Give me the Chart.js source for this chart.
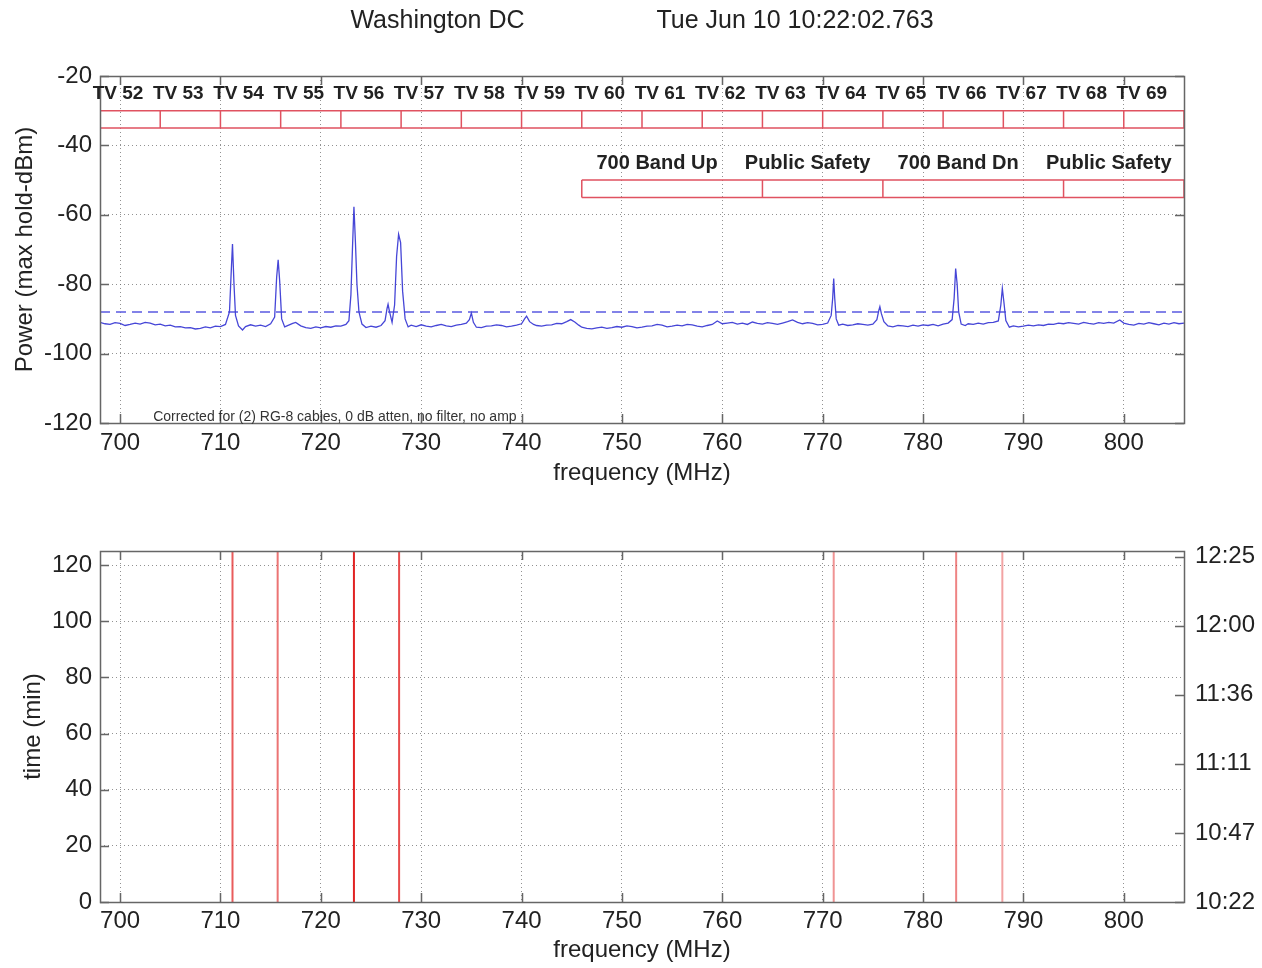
<!DOCTYPE html>
<html>
<head>
<meta charset="utf-8">
<script src="https://cdn.jsdelivr.net/npm/chart.js@4.4.1/dist/chart.umd.min.js"></script>
<style>
  body { margin: 0; background: #fff; }
  canvas { position: absolute; left: 0; }
  #spectrum { top: 0; }
  #waterfall { top: 490px; }
</style>
</head>
<body>
<canvas id="spectrum" width="1262" height="490"></canvas>
<canvas id="waterfall" width="1262" height="478"></canvas>
<script>
// axis ticks
const freqTicks = [700, 710, 720, 730, 740, 750, 760, 770, 780, 790, 800];
const powerTicks = [-120, -100, -80, -60, -40, -20];
const timeTicks = [0, 20, 40, 60, 80, 100, 120];
const clockTicks = [0, 24.6, 49.2, 73.8, 98.4, 123];
const clockLabels = ['10:22', '10:47', '11:11', '11:36', '12:00', '12:25'];

// channel plan
const tvChannels = ['TV 52', 'TV 53', 'TV 54', 'TV 55', 'TV 56', 'TV 57', 'TV 58', 'TV 59', 'TV 60',
    'TV 61', 'TV 62', 'TV 63', 'TV 64', 'TV 65', 'TV 66', 'TV 67', 'TV 68', 'TV 69'];
const tvEdges = [698, 704, 710, 716, 722, 728, 734, 740, 746, 752, 758, 764, 770, 776, 782, 788, 794, 800, 806];
const bandNames = ['700 Band Up', 'Public Safety', '700 Band Dn', 'Public Safety'];
const bandEdges = [746, 764, 776, 794, 806];

// max hold spectrum (MHz, dBm), one line of freqs per line of powers
const specFreq = [
    698, 698.5, 699, 699.5, 700, 700.5, 701, 701.5, 702, 702.5, 703, 703.5, 704, 704.5, 705, 705.5, 706, 706.5, 707, 707.5, 708, 708.5, 709, 709.5, 710, 710.5,
    710.9, 711.05, 711.2, 711.35, 711.5, 711.8, 712.2, 712.5, 713, 713.5, 714, 714.5, 715, 715.4, 715.6, 715.75, 715.9, 716.1, 716.4, 716.8,
    717.2, 717.5, 718, 718.5, 719, 719.5, 720, 720.5, 721, 721.5, 722, 722.5,
    722.8, 723.0, 723.15, 723.3, 723.45, 723.6, 723.8, 724.1, 724.5, 725, 725.5, 726, 726.4, 726.6, 726.7, 726.85, 727.1, 727.35, 727.55, 727.75, 727.95, 728.15, 728.4, 728.7,
    729, 729.5, 730, 730.5, 731, 731.5, 732, 732.5, 733, 733.5, 734, 734.5, 734.8, 735.0, 735.2, 735.5, 736, 736.5, 737, 737.5,
    738, 738.5, 739, 739.5, 740, 740.3, 740.5, 740.8, 741.2, 741.5, 742, 742.5, 743, 743.5, 744, 744.5, 744.9, 745.3, 745.7,
    746, 746.5, 747, 747.5, 748, 748.5, 749, 749.5, 750, 750.5,
    751, 751.5, 752, 752.5, 753, 753.5, 754, 754.5, 755, 755.5,
    756, 756.5, 757, 757.5, 758, 758.5, 759, 759.5, 760, 760.5,
    761, 761.5, 762, 762.5, 763, 763.5, 764, 764.5, 765, 765.5,
    766, 766.5, 767, 767.5, 768, 768.5, 769, 769.5, 770, 770.5,
    770.85, 771.0, 771.1, 771.2, 771.35, 771.6, 772, 772.5, 773, 773.5, 774, 774.5, 775, 775.4, 775.6, 775.7, 775.85, 776.1,
    776.5, 777, 777.5, 778, 778.5, 779, 779.5, 780, 780.5, 781, 781.5, 782, 782.5, 782.9,
    783.1, 783.25, 783.4, 783.55, 783.8, 784.2, 784.5, 785, 785.5, 786, 786.5, 787, 787.5, 787.75, 787.9, 788.05, 788.25, 788.6,
    789, 789.5, 790, 790.5, 791, 791.5, 792, 792.5, 793, 793.5,
    794, 794.5, 795, 795.5, 796, 796.5, 797, 797.5, 798, 798.5,
    799, 799.6, 800, 800.5, 801, 801.5, 802, 802.5, 803, 803.5,
    804, 804.5, 805, 805.5, 806];
const specPower = [
    -91.0, -91.4, -91.6, -91.1, -91.3, -91.9, -91.6, -91.2, -91.5, -91.0, -91.2, -91.7, -91.5, -92.0, -91.8, -92.3, -92.2, -92.6, -92.5, -92.9, -92.7, -92.3, -92.6, -92.1, -92.2, -91.6,
    -88, -78, -68.4, -80, -89, -92.0, -93.2, -92.2, -91.7, -92.1, -91.8, -92.2, -91.4, -89.5, -78, -73.0, -79, -90, -92.3, -91.8,
    -91.3, -91.0, -92.0, -92.5, -92.7, -92.3, -92.6, -92.2, -92.4, -92.0, -92.1, -91.6,
    -90.5, -83, -70, -57.7, -68, -80, -88, -91.5, -92.5, -92.1, -92.4, -91.9, -90.5, -87, -85.8, -88, -91.0, -86, -72, -65.6, -68, -82, -90, -92.3,
    -91.8, -92.2, -91.7, -92.1, -92.3, -91.9, -91.6, -92.0, -92.2, -91.8, -91.6, -91.2, -90.2, -88.3, -91.0, -92.4, -92.5, -92.1, -92.0, -91.7,
    -91.9, -92.3, -92.1, -91.8, -91.4, -90.0, -89.2, -90.8, -91.6, -91.9, -92.1, -91.8, -91.7, -91.3, -91.4, -90.8, -90.2, -90.9, -91.8,
    -92.4, -92.7, -92.9, -92.6, -92.4, -92.7, -92.5, -92.2, -92.4, -92.0,
    -92.2, -92.6, -92.4, -92.1, -92.0, -91.6, -91.8, -92.3, -92.1, -91.8,
    -92.0, -91.6, -91.7, -92.1, -92.3, -91.9, -91.6, -90.6, -91.4, -91.2,
    -91.0, -91.5, -91.2, -91.6, -90.9, -91.3, -91.5, -91.1, -91.3, -91.6,
    -91.2, -90.8, -90.3, -91.0, -91.4, -91.1, -91.3, -91.7, -91.6, -91.2,
    -89, -84, -78.4, -84, -90, -91.8, -91.5, -91.9, -91.7, -91.4, -91.6, -91.8, -91.5, -90.2, -87.5, -86.5, -88.5, -90.8,
    -92.0, -92.3, -91.9, -92.0, -92.2, -91.8, -92.1, -91.7, -91.9, -91.6, -92.0, -91.5, -91.2, -90.2,
    -84, -75.5, -80, -88, -91.5, -91.9, -91.4, -91.6, -91.2, -91.5, -91.1, -91.0, -90.6, -86, -81.2, -85, -90.5, -92.4,
    -92.0, -92.3, -92.1, -91.8, -92.0, -91.7, -91.9, -91.5, -91.6, -91.2,
    -91.4, -91.1, -91.3, -91.5, -91.0, -91.3, -91.5, -91.1, -91.3, -91.0,
    -91.2, -90.3, -91.2, -91.6, -91.8, -91.3, -91.5, -91.1, -91.4, -91.7,
    -91.2, -91.5, -91.1, -91.4, -91.2];
const holdThreshold = -88;

// carriers seen in the waterfall
const signalFreq = [711.2, 715.7, 723.3, 727.8, 771.1, 783.3, 787.9];
const signalPower = [-68.4, -73.0, -57.7, -65.6, -78.4, -75.5, -81.2];

const FONT = '"Liberation Sans", Arial, sans-serif';
Chart.defaults.font.family = FONT;
Chart.defaults.color = '#222';

const gridStyle = { color: 'rgba(110,110,110,0.75)', lineWidth: 1, drawTicks: false };
const borderStyle = { display: false, dash: [1, 3] };

// outline of a row of boxes, null points break the line
function boxOutline(edges, lo, hi) {
    let first = edges[0], last = edges[edges.length - 1];
    let pts = [{x: first, y: hi}, {x: last, y: hi}, {x: last, y: null},
        {x: first, y: lo}, {x: last, y: lo}, {x: last, y: null}];
    edges.forEach(e => {
        pts.push({x: e, y: lo}, {x: e, y: hi}, {x: e, y: null});
    });
    return pts;
}

// matlab style frame with inward ticks
const matlabBox = {
    id: 'matlabBox',
    afterDatasetsDraw(chart) {
        const {ctx, chartArea: a, scales} = chart;
        ctx.save();
        ctx.strokeStyle = '#666';
        ctx.lineWidth = 1.5;
        ctx.beginPath();
        scales.x.ticks.forEach(t => {
            let px = Math.round(scales.x.getPixelForValue(t.value)) + 0.5;
            ctx.moveTo(px, a.bottom); ctx.lineTo(px, a.bottom - 9);
            ctx.moveTo(px, a.top); ctx.lineTo(px, a.top + 9);
        });
        scales.y.ticks.forEach(t => {
            let py = Math.round(scales.y.getPixelForValue(t.value)) + 0.5;
            ctx.moveTo(a.left, py); ctx.lineTo(a.left + 9, py);
            if (!scales.y2) { ctx.moveTo(a.right, py); ctx.lineTo(a.right - 9, py); }
        });
        if (scales.y2) {
            scales.y2.ticks.forEach(t => {
                let py = Math.round(scales.y2.getPixelForValue(t.value)) + 0.5;
                ctx.moveTo(a.right, py); ctx.lineTo(a.right - 9, py);
            });
        }
        ctx.stroke();
        ctx.strokeRect(Math.round(a.left) + 0.5, Math.round(a.top) + 0.5,
            Math.round(a.width), Math.round(a.height));
        ctx.restore();
    }
};

// channel / band names and the footnote
const bandLabels = {
    id: 'bandLabels',
    afterDatasetsDraw(chart) {
        const {ctx, scales: {x, y}} = chart;
        ctx.save();
        ctx.fillStyle = '#222';
        ctx.font = 'bold 19px ' + FONT;
        ctx.textAlign = 'center';
        ctx.textBaseline = 'middle';
        tvChannels.forEach((name, i) => {
            let mid = (tvEdges[i] + tvEdges[i + 1]) / 2 - 1.2;
            ctx.fillText(name, x.getPixelForValue(mid), y.getPixelForValue(-25.2));
        });
        ctx.font = 'bold 20px ' + FONT;
        bandNames.forEach((name, i) => {
            let mid = (bandEdges[i] + bandEdges[i + 1]) / 2 - 1.5;
            ctx.fillText(name, x.getPixelForValue(mid), y.getPixelForValue(-45.3));
        });
        ctx.font = '14px ' + FONT;
        ctx.textAlign = 'left';
        ctx.fillStyle = '#333';
        ctx.fillText('Corrected for (2) RG-8 cables, 0 dB atten, no filter, no amp',
            x.getPixelForValue(703.3), y.getPixelForValue(-118.2));
        ctx.restore();
    }
};

let spectrum = document.getElementById('spectrum').getContext('2d');
new Chart(spectrum, {
    type: 'scatter',
    data: {
        datasets: [
            {
                data: specFreq.map((f, i) => ({x: f, y: specPower[i]})),
                showLine: true,
                borderColor: 'rgb(70,70,215)',
                borderWidth: 1.3,
                pointRadius: 0,
            },
            {
                data: [{x: 698, y: holdThreshold}, {x: 806, y: holdThreshold}],
                showLine: true,
                borderColor: 'rgb(90,90,225)',
                borderWidth: 1.5,
                borderDash: [10, 6],
                pointRadius: 0,
            },
            {
                data: boxOutline(tvEdges, -35, -30),
                showLine: true,
                spanGaps: false,
                borderColor: 'rgb(224,82,96)',
                borderWidth: 1.5,
                pointRadius: 0,
            },
            {
                data: boxOutline(bandEdges, -55, -50),
                showLine: true,
                spanGaps: false,
                borderColor: 'rgb(224,82,96)',
                borderWidth: 1.5,
                pointRadius: 0,
            }
        ],
    },
    options: {
        responsive: false,
        animation: false,
        layout: { padding: { left: 0, right: 78, top: 0, bottom: 0 } },
        plugins: {
            legend: { display: false },
            tooltip: { enabled: false },
            title: {
                display: true,
                fullSize: false,
                text: 'Washington DC' + ' '.repeat(19) + 'Tue Jun 10 10:22:02.763',
                font: { size: 25, weight: 'normal' },
                color: '#222',
                padding: { top: 6, bottom: 40 },
            },
        },
        scales: {
            x: {
                type: 'linear',
                min: 698,
                max: 806,
                afterBuildTicks: s => { s.ticks = freqTicks.map(v => ({value: v})); },
                afterFit: s => { s.height = 67; },
                ticks: { font: { size: 24 }, padding: 6, maxRotation: 0, autoSkip: false },
                grid: gridStyle,
                border: borderStyle,
                title: { display: true, text: 'frequency (MHz)', font: { size: 24 }, padding: { top: 0, bottom: 2 } },
            },
            y: {
                min: -120,
                max: -20,
                afterBuildTicks: s => { s.ticks = powerTicks.map(v => ({value: v})); },
                afterFit: s => { s.width = 100; },
                ticks: { font: { size: 24 }, padding: 8 },
                grid: gridStyle,
                border: borderStyle,
                title: { display: true, text: 'Power (max hold-dBm)', font: { size: 24 }, padding: { top: 11, bottom: 0 } },
            }
        }
    },
    plugins: [matlabBox, bandLabels]
});

let waterfall = document.getElementById('waterfall').getContext('2d');
new Chart(waterfall, {
    type: 'scatter',
    data: {
        datasets: signalFreq.map((f, i) => ({
            data: [{x: f, y: 0}, {x: f, y: 125}],
            showLine: true,
            borderColor: 'rgba(225,35,35,' + Math.min(1, 0.45 + (signalPower[i] + 80) * 0.025).toFixed(2) + ')',
            borderWidth: 2,
            pointRadius: 0,
        })),
    },
    options: {
        responsive: false,
        animation: false,
        layout: { padding: { left: 0, right: 0, top: 61, bottom: 0 } },
        plugins: {
            legend: { display: false },
            tooltip: { enabled: false },
        },
        scales: {
            x: {
                type: 'linear',
                min: 698,
                max: 806,
                afterBuildTicks: s => { s.ticks = freqTicks.map(v => ({value: v})); },
                afterFit: s => { s.height = 66; },
                ticks: { font: { size: 24 }, padding: 5, maxRotation: 0, autoSkip: false },
                grid: gridStyle,
                border: borderStyle,
                title: { display: true, text: 'frequency (MHz)', font: { size: 24 }, padding: { top: 0, bottom: 3 } },
            },
            y: {
                min: 0,
                max: 125,
                afterBuildTicks: s => { s.ticks = timeTicks.map(v => ({value: v})); },
                afterFit: s => { s.width = 100; },
                ticks: { font: { size: 24 }, padding: 8 },
                grid: gridStyle,
                border: borderStyle,
                title: { display: true, text: 'time (min)', font: { size: 24 }, padding: { top: 19, bottom: 0 } },
            },
            y2: {
                position: 'right',
                min: 0,
                max: 125,
                afterBuildTicks: s => { s.ticks = clockTicks.map(v => ({value: v})); },
                afterFit: s => { s.width = 78; },
                ticks: { font: { size: 24 }, padding: 11, callback: (v, i) => clockLabels[i] },
                grid: { drawOnChartArea: false, drawTicks: false },
                border: { display: false },
            }
        }
    },
    plugins: [matlabBox]
});
</script>
</body>
</html>
